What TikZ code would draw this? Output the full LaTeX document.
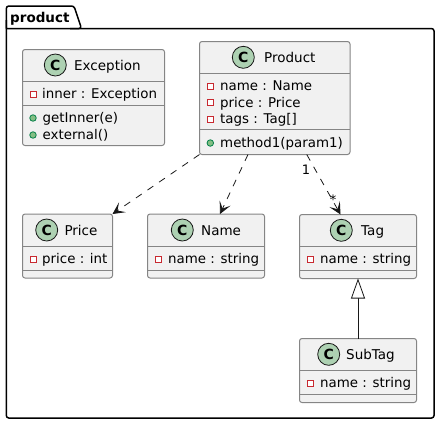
\documentclass[tikz,border=0pt]{standalone}
\usepackage{fontspec}
\usepackage{xcolor}
\setmainfont{DejaVu Sans}
\usetikzlibrary{arrows.meta, positioning}
\definecolor{boxfill}{HTML}{F1F1F1}
\definecolor{boxline}{HTML}{858585}
\definecolor{spotfill}{HTML}{ADD1B2}
\definecolor{inkdark}{HTML}{181818}
\definecolor{privred}{HTML}{C82930}
\definecolor{pubfill}{HTML}{84BE84}
\definecolor{publine}{HTML}{038048}

\begin{document}
\begin{tikzpicture}[
    x=1pt, y=-1pt,
    % Class boxes
    classbox/.style={
        rectangle, draw=boxline, rounded corners=2.5pt,
        anchor=north west, fill=boxfill, inner sep=0pt, outer sep=0pt,
        line width=1pt
    },
    divider/.style={draw=boxline, line width=1pt},
    spot/.style={
        circle, draw=inkdark, fill=spotfill, line width=0.8pt,
        minimum size=22pt, inner sep=0pt,
        font=\fontsize{14}{14}\selectfont\bfseries, text=black
    },
    title/.style={anchor=base west, inner sep=0pt, font=\fontsize{13.5}{16}\selectfont, text=black},
    member/.style={anchor=base west, inner sep=0pt, font=\fontsize{13.4}{16}\selectfont, text=black},
    % Visibility markers
    privmark/.style={rectangle, draw=privred, fill=white, line width=0.9pt, minimum size=6pt, inner sep=0pt},
    pubmark/.style={circle, draw=publine, fill=pubfill, line width=0.8pt, minimum size=6.5pt, inner sep=0pt},
    dep/.style={dash pattern=on 7pt off 7pt, draw=inkdark, line width=0.8pt,
        -{Stealth[length=12pt, width=12pt, inset=6pt]}},
    inherit/.style={draw=inkdark, line width=0.8pt,
        -{Triangle[open, fill=white, length=20pt, width=14pt]}},
    cardinal/.style={inner sep=0pt, font=\fontsize{13}{13}\selectfont, text=black},
]
\useasboundingbox (0,0) rectangle (439,424);

% Package outline with its tab
\draw[black, line width=1.5pt, rounded corners=2.5pt]
    (6.3,28.5) -- (6.3,6) -- (74,6) -- (81.5,28.5) -- (6.3,28.5);
\draw[black, line width=1.5pt, rounded corners=2.5pt]
    (6.3,20) -- (6.3,418) -- (434,418) -- (434,28.5) -- (70,28.5);
\node[anchor=base west, inner sep=0pt, font=\fontsize{13.5}{16}\selectfont\bfseries] (pkgname) at (10,22) {product};

% Exception
\node[classbox, minimum width=142pt, minimum height=96pt] (exception) at (22.5,49.5) {};
\draw[divider] (exception.west |- 0,81) -- (exception.east |- 0,81);
\draw[divider] (exception.west |- 0,105) -- (exception.east |- 0,105);
\node[spot] (exceptionspot) at (55.3,65) {C};
\node[title] (exceptionname) at (74,70) {Exception};
\node[privmark] (exceptionmarka) at (33,94) {};
\node[member] (exceptioninner) at (42,98) {inner : Exception};
\node[pubmark] (exceptionmarkb) at (33,118) {};
\node[member] (exceptionget) at (42.5,122) {getInner(e)};
\node[pubmark] (exceptionmarkc) at (33,135) {};
\node[member] (exceptionext) at (42.5,139) {external()};

% Product
\node[classbox, minimum width=150.5pt, minimum height=113pt] (product) at (199.5,41.5) {};
\draw[divider] (product.west |- 0,73.5) -- (product.east |- 0,73.5);
\draw[divider] (product.west |- 0,129.5) -- (product.east |- 0,129.5);
\node[spot] (productspot) at (243.3,57.3) {C};
\node[title] (productname) at (264,62.5) {Product};
\node[privmark] (productmarka) at (210.3,86) {};
\node[member] (productattra) at (220,90) {name : Name};
\node[privmark] (productmarkb) at (210.3,102.5) {};
\node[member] (productattrb) at (220,107) {price : Price};
\node[privmark] (productmarkc) at (210.3,119) {};
\node[member] (productattrc) at (220,123.5) {tags : Tag[]};
\node[pubmark] (productmarkd) at (210.3,143) {};
\node[member] (productmeth) at (220,147) {method1(param1)};

% Price
\node[classbox, minimum width=90pt, minimum height=64pt] (price) at (22.5,214) {};
\draw[divider] (price.west |- 0,246) -- (price.east |- 0,246);
\draw[divider] (price.west |- 0,270) -- (price.east |- 0,270);
\node[spot] (pricespot) at (46.7,230) {C};
\node[title] (pricename) at (64.3,235) {Price};
\node[privmark] (pricemark) at (33,259) {};
\node[member] (priceattr) at (42,263) {price : int};

% Name
\node[classbox, minimum width=117pt, minimum height=64pt] (name) at (147.5,214) {};
\draw[divider] (name.west |- 0,246) -- (name.east |- 0,246);
\draw[divider] (name.west |- 0,270) -- (name.east |- 0,270);
\node[spot] (namespot) at (182.3,230) {C};
\node[title] (namename) at (201,235) {Name};
\node[privmark] (namemark) at (158.7,259) {};
\node[member] (nameattr) at (168,263) {name : string};

% Tag
\node[classbox, minimum width=117pt, minimum height=64pt] (tag) at (299.5,214.5) {};
\draw[divider] (tag.west |- 0,246.5) -- (tag.east |- 0,246.5);
\draw[divider] (tag.west |- 0,270.5) -- (tag.east |- 0,270.5);
\node[spot] (tagspot) at (341.3,230.3) {C};
\node[title] (tagname) at (361,235.5) {Tag};
\node[privmark] (tagmark) at (310,259.5) {};
\node[member] (tagattr) at (320,263.5) {name : string};

% SubTag
\node[classbox, minimum width=117pt, minimum height=64pt] (subtag) at (299.5,338.5) {};
\draw[divider] (subtag.west |- 0,370.5) -- (subtag.east |- 0,370.5);
\draw[divider] (subtag.west |- 0,394.5) -- (subtag.east |- 0,394.5);
\node[spot] (subtagspot) at (328.7,354.3) {C};
\node[title] (subtagname) at (346,359.5) {SubTag};
\node[privmark] (subtagmark) at (310,383.5) {};
\node[member] (subtagattr) at (320,387.5) {name : string};

% Arrows
\draw[dep] (product.south west) -- (price.north east);
\draw[dep] ([xshift=-26.75pt]product.south) -- ([xshift=14pt]name.north);
\draw[dep] ([xshift=32pt]product.south) -- ([xshift=-17.5pt]tag.north);
\draw[inherit] (subtag.north) -- (tag.south);

% Multiplicities
\node[cardinal] (tagfrom) at (306,170) {1};
\node[cardinal] (tagto) at (333,200) {*};

\end{tikzpicture}
\end{document}
